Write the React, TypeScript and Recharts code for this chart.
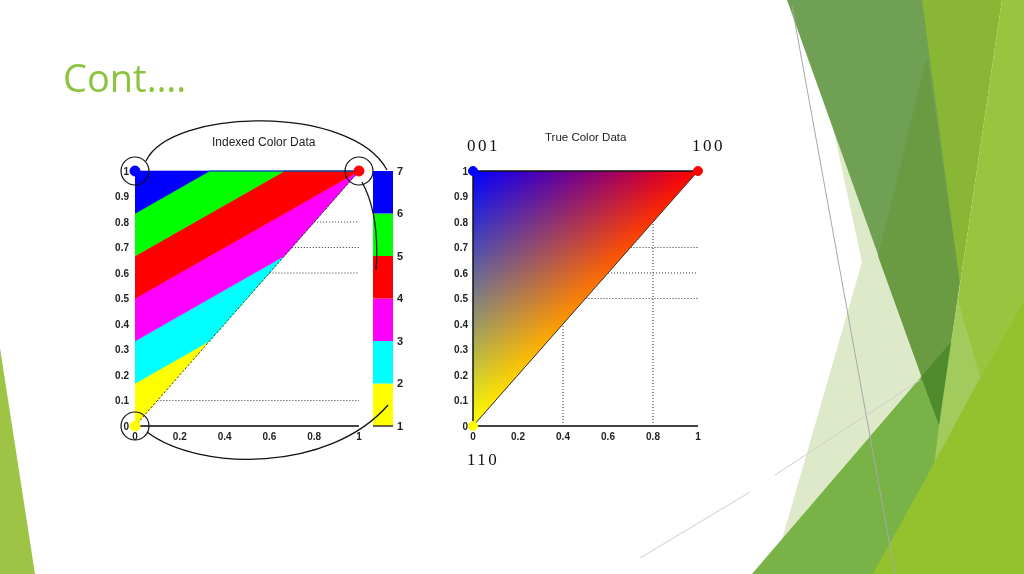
import React from "react";
import {
  ComposedChart, Area, XAxis, YAxis, ReferenceLine, ReferenceDot,
} from "recharts";

// indexed colour plot: each band is a [low, high] range at the band x positions
const bandX = [0, 0.333, 0.667, 1];
const yellowBand = [[0, 0.167], [0.333, 0.333], [0.667, 0.667], [1, 1]];
const cyanBand = [[0.167, 0.333], [0.333, 0.5], [0.667, 0.667], [1, 1]];
const magentaBand = [[0.333, 0.5], [0.5, 0.667], [0.667, 0.833], [1, 1]];
const redBand = [[0.5, 0.667], [0.667, 0.833], [0.833, 1], [1, 1]];
const greenBand = [[0.667, 0.833], [0.833, 1], [1, 1], [1, 1]];
const blueBand = [[0.833, 1], [1, 1], [1, 1], [1, 1]];

// true colour plot: one triangle
const trueX = [0, 1];
const trueBand = [[0, 1], [1, 1]];

const xTicks = [0, 0.2, 0.4, 0.6, 0.8, 1];
const yTicks = [0, 0.1, 0.2, 0.3, 0.4, 0.5, 0.6, 0.7, 0.8, 0.9, 1];

const indexLevels = [1, 2, 3, 4, 5, 6, 7];
const indexColors = ["#ffff00", "#00ffff", "#ff00ff", "#ff0000", "#00ff00", "#0000ff"];

const cornerX = [0, 1, 0];
const cornerY = [1, 1, 0];
const cornerColors = ["#0000ff", "#ff0000", "#ffff00"];

const leftGuideY = [0.8, 0.7, 0.6, 0.1];
const rightGuideY = [0.7, 0.6, 0.5];
const rightGuideX = [0.4, 0.8];

const tickFont = "'Liberation Sans Narrow', 'Liberation Sans', Arial, sans-serif";
const tickStyle = { fill: "#222", fontSize: 10, fontWeight: 700, fontFamily: tickFont };

const bands: [string, number[][], string][] = [
  ["yellow", yellowBand, indexColors[0]],
  ["cyan", cyanBand, indexColors[1]],
  ["magenta", magentaBand, indexColors[2]],
  ["red", redBand, indexColors[3]],
  ["green", greenBand, indexColors[4]],
  ["blue", blueBand, indexColors[5]],
];

// decoration (slide theme shapes)
const greenShapes: [string, string][] = [
  ["0,348 0,574 35,574", "#9dc444"],
  ["826,95 862,262 772,574 960,574 960,250", "#dde9c8"],
  ["787,0 1000,0 939,425", "#70a053"],
  ["927,57 878,256 939,425 960,282", "#6a9a41"],
  ["922,0 1002,0 960,285", "#89b634"],
  ["752,574 921,377 951,342 1024,300 1024,574", "#79b348"],
  ["1002,0 1024,0 1024,574 918,574 960,285", "#97c53f"],
  ["958,300 980,377 935,462 939,425 951,342", "#a1cb5d"],
  ["873,574 1024,300 1024,574", "#93c22e"],
  ["921,377 951,342 939,425", "#4f8b2c"],
];

function IndexedPlot() {
  const data = bandX.map((x, i) => {
    const row: any = { x };
    bands.forEach(([k, arr]) => { row[k] = arr[i]; });
    return row;
  });
  return (
    <ComposedChart width={280} height={310} data={data} margin={{ top: 21, right: 21, left: 5, bottom: 10 }}>
      <XAxis type="number" dataKey="x" domain={[0, 1]} ticks={xTicks} interval={0} height={24}
        tickLine={false} tickSize={5} axisLine={{ stroke: "#444", strokeWidth: 2 }} tick={tickStyle} />
      <YAxis type="number" domain={[0, 1]} ticks={yTicks} interval={0} width={30}
        axisLine={false} tickLine={false} tickSize={4} tick={tickStyle} />
      {bands.map(([k, , c]) => (
        <Area key={k} type="linear" dataKey={k} stroke={c} strokeWidth={0.6} fill={c} fillOpacity={1}
          dot={false} activeDot={false} isAnimationActive={false} />
      ))}
      {leftGuideY.map(y => (
        <ReferenceLine key={y} segment={[{ x: y, y }, { x: 1, y }]} stroke="#333" strokeDasharray="1 2" />
      ))}
      <ReferenceLine segment={[{ x: 0, y: 0 }, { x: 1, y: 1 }]} stroke="#333" strokeDasharray="2 2" />
      {cornerX.map((x, i) => (
        <ReferenceDot key={"c" + i} x={x} y={cornerY[i]} r={5} fill={cornerColors[i]} stroke={cornerColors[i]} ifOverflow="visible" />
      ))}
      {cornerX.map((x, i) => (
        <ReferenceDot key={"o" + i} x={x} y={cornerY[i]} r={14} fill="none" stroke="#111" strokeWidth={1.2} ifOverflow="visible" />
      ))}
    </ComposedChart>
  );
}

function ColorBar() {
  const data = [0, 1].map(x => {
    const row: any = { x };
    indexColors.forEach((_, i) => { row["s" + i] = [indexLevels[i], indexLevels[i + 1]]; });
    return row;
  });
  return (
    <ComposedChart width={60} height={310} data={data} margin={{ top: 21, right: 5, left: 13, bottom: 10 }}>
      <XAxis type="number" dataKey="x" domain={[0, 1]} height={24} tick={false} tickLine={false} axisLine={false} />
      <YAxis orientation="right" type="number" domain={[1, 7]} ticks={indexLevels} interval={0} width={22}
        axisLine={false} tickLine={false} tickSize={2} tick={{ ...tickStyle, fontSize: 11 }} />
      {indexColors.map((c, i) => (
        <Area key={c} type="linear" dataKey={"s" + i} stroke="none" fill={c} fillOpacity={1}
          dot={false} activeDot={false} isAnimationActive={false} />
      ))}
      <ReferenceLine y={1} stroke="#333" strokeWidth={1.5} />
    </ComposedChart>
  );
}

function TrueColorPlot() {
  const data = trueX.map((x, i) => ({ x, tri: trueBand[i] }));
  return (
    <ComposedChart width={280} height={310} data={data} margin={{ top: 21, right: 20, left: 5, bottom: 10 }}>
      <defs>
        <linearGradient id="chR" x1="0" y1="0" x2="0.5" y2="0.5">
          <stop offset="0" stopColor="#000000" />
          <stop offset="1" stopColor="#ff0000" />
        </linearGradient>
        <linearGradient id="chG" x1="0" y1="0" x2="0" y2="1">
          <stop offset="0" stopColor="#000000" />
          <stop offset="1" stopColor="#00ff00" />
        </linearGradient>
        <linearGradient id="chB" x1="0" y1="0" x2="0.5" y2="0.5">
          <stop offset="0" stopColor="#0000ff" />
          <stop offset="1" stopColor="#000000" />
        </linearGradient>
      </defs>
      <XAxis type="number" dataKey="x" domain={[0, 1]} ticks={xTicks} interval={0} height={24}
        tickLine={false} tickSize={5} axisLine={{ stroke: "#444", strokeWidth: 2 }} tick={tickStyle} />
      <YAxis type="number" domain={[0, 1]} ticks={yTicks} interval={0} width={30}
        axisLine={{ stroke: "#111", strokeWidth: 1.5 }} tickLine={false} tickSize={3} tick={tickStyle} />
      <Area type="linear" dataKey="tri" stroke="none" fill="url(#chR)" fillOpacity={1}
        dot={false} activeDot={false} isAnimationActive={false} />
      <Area className="screen" type="linear" dataKey="tri" stroke="none" fill="url(#chG)" fillOpacity={1}
        dot={false} activeDot={false} isAnimationActive={false} />
      <Area className="screen" type="linear" dataKey="tri" stroke="none" fill="url(#chB)" fillOpacity={1}
        dot={false} activeDot={false} isAnimationActive={false} />
      {rightGuideY.map(y => (
        <ReferenceLine key={"h" + y} segment={[{ x: y, y }, { x: 1, y }]} stroke="#333" strokeDasharray="1 2" />
      ))}
      {rightGuideX.map(x => (
        <ReferenceLine key={"v" + x} segment={[{ x, y: 0 }, { x, y: x }]} stroke="#333" strokeDasharray="1 2" />
      ))}
      <ReferenceLine segment={[{ x: 0, y: 1 }, { x: 1, y: 1 }]} stroke="#111" strokeWidth={1.5} />
      <ReferenceLine segment={[{ x: 0, y: 0 }, { x: 1, y: 1 }]} stroke="#333" strokeWidth={1} />
      {cornerX.map((x, i) => (
        <ReferenceDot key={i} x={x} y={cornerY[i]} r={4.5} fill={cornerColors[i]} stroke={cornerColors[i]} ifOverflow="visible" />
      ))}
    </ComposedChart>
  );
}

export default function App() {
  return (
    <div style={{ position: "absolute", left: 0, top: 0, width: 1024, height: 574, background: "#fff", overflow: "hidden" }}>
      <style>{`.screen { mix-blend-mode: screen; }`}</style>
      <div style={{ position: "absolute", left: 100, top: 150 }}><IndexedPlot /></div>
      <div style={{ position: "absolute", left: 360, top: 150 }}><ColorBar /></div>
      <div style={{ position: "absolute", left: 438, top: 150 }}><TrueColorPlot /></div>
      <svg width={1024} height={574} style={{ position: "absolute", left: 0, top: 0, pointerEvents: "none" }}>
        {greenShapes.map(([pts, c], i) => <polygon key={i} points={pts} fill={c} />)}
        <line x1={792} y1={6} x2={895} y2={574} stroke="#a8a8a8" strokeWidth={1} />
        <line x1={640} y1={558} x2={750} y2={492} stroke="#cfcfcf" strokeWidth={1} />
        <line x1={775} y1={475} x2={920} y2={380} stroke="#cfcfcf" strokeWidth={1} />
        <text x={63} y={92} fontFamily="'Open Sans', sans-serif" fontSize={38} fill="#8cc43f">Cont….</text>
        <text x={212} y={146} fontFamily="'Liberation Sans', Arial, sans-serif" fontSize={12} fill="#222">Indexed Color Data</text>
        <text x={545} y={141} fontFamily="'Liberation Sans', Arial, sans-serif" fontSize={11.5} fill="#222">True Color Data</text>
        <text x={467} y={151} fontFamily="'Liberation Serif', serif" fontSize={17} letterSpacing={2.5} fill="#111">001</text>
        <text x={692} y={151} fontFamily="'Liberation Serif', serif" fontSize={17} letterSpacing={2.5} fill="#111">100</text>
        <text x={467} y={465} fontFamily="'Liberation Serif', serif" fontSize={17} letterSpacing={2.5} fill="#111">110</text>
        <g fill="none" stroke="#111" strokeWidth={1.3}>
          <path d="M146 161 C170 108, 352 104, 387 170" />
          <path d="M362 182 Q380 215 376 270" />
          <path d="M147 432 C200 472, 330 472, 388 405" />
        </g>
      </svg>
    </div>
  );
}
